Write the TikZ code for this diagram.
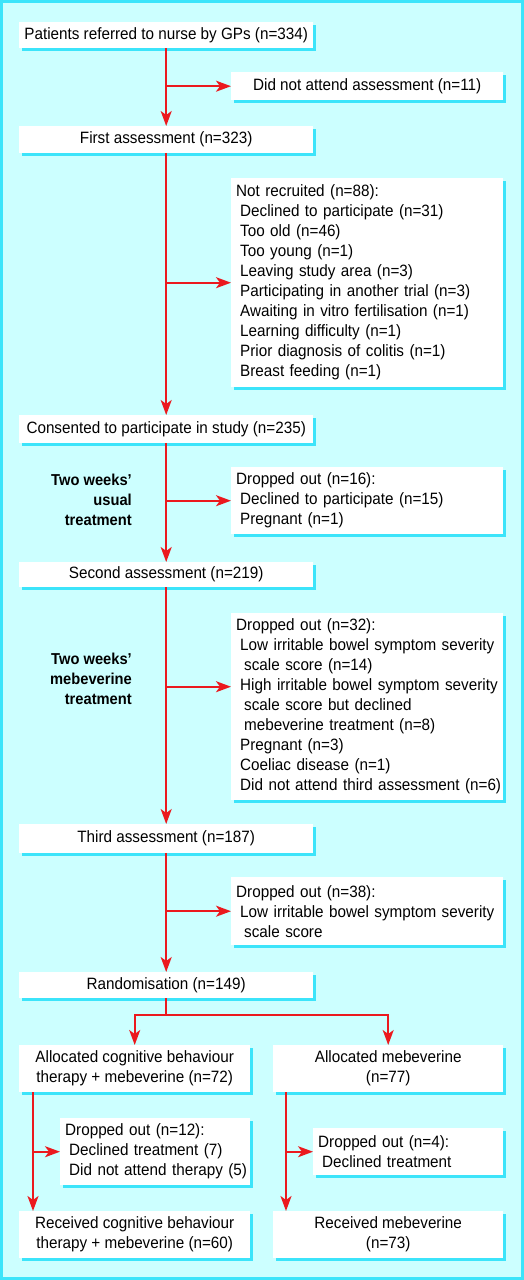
\documentclass[tikz,border=0pt]{standalone}
\usepackage{fontspec}
\setmainfont{Liberation Sans}[FakeStretch=0.93]
\usetikzlibrary{arrows.meta,shadows,calc}
\definecolor{bgc}{RGB}{204,255,255}
\definecolor{cyc}{RGB}{60,228,250}
\definecolor{redc}{RGB}{235,25,30}
\newcommand\myi[1]{\mbox{\hspace*{4pt}#1}}
\newcommand\myii[1]{\mbox{\hspace*{8pt}#1}}
\begin{document}
\begin{tikzpicture}[x=1pt,y=-1pt,
 base/.style={font=\fontsize{16.4}{20}\selectfont, inner xsep=5pt, inner ysep=0pt, anchor=north west},
 box/.style={base, fill=white, drop shadow={shadow xshift=3pt,shadow yshift=-3pt,fill=cyc,opacity=1}},
 cbox/.style={box, align=center},
 lbox/.style={box, align=left},
 lab/.style={font=\fontsize{15.8}{20}\selectfont\bfseries, align=right, anchor=east, inner sep=0pt},
 arr/.style={draw=redc, line width=1.9pt, -{Stealth[length=15pt,width=11pt,inset=4pt]}}]
\useasboundingbox (0,0) rectangle (524,1280);
\fill[bgc] (0,0) rectangle (524,1280);
\draw[cyc, line width=3pt] (1.5,1.5) rectangle (522.5,1278.5);

\node[cbox, minimum width=294pt, minimum height=26pt] (B1) at (19,22) {Patients referred to nurse by GPs (n=334)};
\node[cbox, minimum width=272pt, minimum height=28pt] (B2) at (231,72) {Did not attend assessment (n=11)};
\node[cbox, minimum width=294pt, minimum height=27pt] (B3) at (19,126) {First assessment (n=323)};
\node[lbox, text width=262pt, minimum height=209pt] (B4) at (231,178) {\mbox{Not recruited (n=88):}\\
\myi{Declined to participate (n=31)}\\
\myi{Too old (n=46)}\\
\myi{Too young (n=1)}\\
\myi{Leaving study area (n=3)}\\
\myi{Participating in another trial (n=3)}\\
\myi{Awaiting in vitro fertilisation (n=1)}\\
\myi{Learning difficulty (n=1)}\\
\myi{Prior diagnosis of colitis (n=1)}\\
\myi{Breast feeding (n=1)}};
\node[cbox, minimum width=294pt, minimum height=28pt] (B5) at (19,415) {Consented to participate in study (n=235)};
\node[lab] (L1) at (132,500) {Two weeks’\\usual\\treatment};
\node[lbox, text width=262pt, minimum height=67pt] (B6) at (231,467) {\mbox{Dropped out (n=16):}\\
\myi{Declined to participate (n=15)}\\
\myi{Pregnant (n=1)}};
\node[cbox, minimum width=294pt, minimum height=25pt] (B7) at (19,562) {Second assessment (n=219)};
\node[lab] (L2) at (132,679) {Two weeks’\\mebeverine\\treatment};
\node[lbox, text width=262pt, minimum height=187pt] (B8) at (231,613) {\mbox{Dropped out (n=32):}\\
\myi{Low irritable bowel symptom severity}\\
\myii{scale score (n=14)}\\
\myi{High irritable bowel symptom severity}\\
\myii{scale score but declined}\\
\myii{mebeverine treatment (n=8)}\\
\myi{Pregnant (n=3)}\\
\myi{Coeliac disease (n=1)}\\
\myi{Did not attend third assessment (n=6)}};
\node[cbox, minimum width=294pt, minimum height=29pt] (B9) at (19,824) {Third assessment (n=187)};
\node[lbox, text width=262pt, minimum height=68pt] (B10) at (231,877) {\mbox{Dropped out (n=38):}\\
\myi{Low irritable bowel symptom severity}\\
\myii{scale score}};
\node[cbox, minimum width=294pt, minimum height=26pt] (B11) at (19,972) {Randomisation (n=149)};
\node[cbox, minimum width=231pt, minimum height=47pt] (B12) at (19,1045) {Allocated cognitive behaviour\\therapy + mebeverine (n=72)};
\node[cbox, minimum width=230pt, minimum height=47pt] (B13) at (273,1045) {Allocated mebeverine\\(n=77)};
\node[lbox, text width=180pt, minimum height=67pt] (B14) at (60,1118) {\mbox{Dropped out (n=12):}\\
\myi{Declined treatment (7)}\\
\myi{Did not attend therapy (5)}};
\node[lbox, text width=180pt, minimum height=47pt] (B15) at (313,1128) {\mbox{Dropped out (n=4):}\\
\myi{Declined treatment}};
\node[cbox, minimum width=231pt, minimum height=47pt] (B16) at (19,1211) {Received cognitive behaviour\\therapy + mebeverine (n=60)};
\node[cbox, minimum width=230pt, minimum height=47pt] (B17) at (273,1211) {Received mebeverine\\(n=73)};

% main spine
\draw[arr] (B1.south) -- (B3.north);
\draw[arr] (B1.south |- B2.west) -- (B2.west);
\draw[arr] (B3.south) -- (B5.north);
\draw[arr] (B3.south |- B4.west) -- (B4.west);
\draw[arr] (B5.south) -- (B7.north);
\draw[arr] (B5.south |- B6.west) -- (B6.west);
\coordinate (b8a) at ([yshift=20pt]B8.west);
\draw[arr] (B7.south) -- (B9.north);
\draw[arr] (B7.south |- b8a) -- (b8a);
\draw[arr] (B9.south) -- (B11.north);
\draw[arr] (B9.south |- B10.west) -- (B10.west);
% split
\path (B12.north) ++(0,-30) coordinate (spl);
\draw[arr] (B11.south) -- (B11.south |- spl) -| (B12.north);
\draw[arr] (B11.south |- spl) -| (B13.north);
% left column
\coordinate (c1) at ([xshift=14pt]B12.south west);
\draw[arr] (c1) -- (c1 |- B16.north);
\draw[arr] (c1 |- B14.west) -- (B14.west);
% right column
\coordinate (c2) at ([xshift=13pt]B13.south west);
\draw[arr] (c2) -- (c2 |- B17.north);
\draw[arr] (c2 |- B15.west) -- (B15.west);
\end{tikzpicture}
\end{document}
